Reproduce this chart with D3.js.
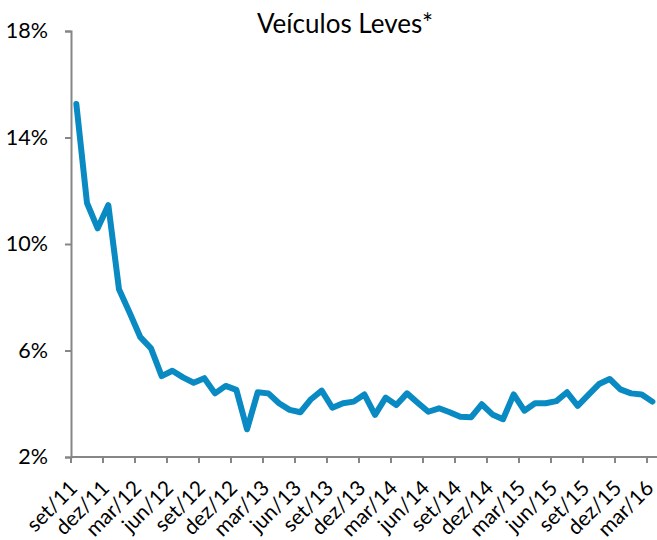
<!DOCTYPE html>
<html>
<head>
<meta charset="utf-8">
<script src="https://cdn.jsdelivr.net/npm/d3@7"></script>
<style>
  html, body { margin: 0; padding: 0; background: #fff; }
  svg { display: block; }
  text { font-family: Lato, "Open Sans", sans-serif; fill: #000; }
</style>
</head>
<body>
<svg id="chart" width="657" height="540"></svg>
<script>
// ---- data ----
const title = "Veículos Leves*";
// categories: set/11 .. mar/16 (55 months)
const categories = [
  "set/11","out/11","nov/11","dez/11",
  "jan/12","fev/12","mar/12","abr/12","mai/12","jun/12","jul/12","ago/12","set/12","out/12","nov/12","dez/12",
  "jan/13","fev/13","mar/13","abr/13","mai/13","jun/13","jul/13","ago/13","set/13","out/13","nov/13","dez/13",
  "jan/14","fev/14","mar/14","abr/14","mai/14","jun/14","jul/14","ago/14","set/14","out/14","nov/14","dez/14",
  "jan/15","fev/15","mar/15","abr/15","mai/15","jun/15","jul/15","ago/15","set/15","out/15","nov/15","dez/15",
  "jan/16","fev/16","mar/16"
];
const values = [
  15.26, 11.54, 10.59, 11.46, 8.30, 7.42, 6.50, 6.08, 5.04, 5.24, 4.99, 4.79, 4.96,
  4.39, 4.67, 4.52, 3.04, 4.43, 4.39, 4.02, 3.77, 3.68, 4.17, 4.49, 3.85, 4.02,
  4.08, 4.35, 3.58, 4.23, 3.95, 4.39, 4.04, 3.70, 3.83, 3.68, 3.51, 3.49, 3.98, 3.60,
  3.42, 4.35, 3.74, 4.02, 4.02, 4.10, 4.43, 3.92, 4.33, 4.74, 4.93, 4.54, 4.39, 4.35, 4.08
];
const yTicks = [2, 6, 10, 14, 18];
const xLabelEvery = 3;

// ---- layout ----
const svg = d3.select("#chart");
const plotLeft = 71, plotRight = 657.7, plotTop = 31, plotBottom = 457;
const axisColor = "#868686";
const lineColor = "#0a8ac3";

const x = d3.scaleBand().domain(categories).range([plotLeft, plotRight]).paddingInner(0).paddingOuter(0);
const y = d3.scaleLinear().domain([2, 18]).range([plotBottom, plotTop]);

// y axis
const yAxis = d3.axisLeft(y).tickValues(yTicks).tickSize(6).tickPadding(17)
  .tickFormat(d => d + "%");
const gy = svg.append("g").attr("transform", `translate(${plotLeft},0)`).call(yAxis);
gy.select(".domain").attr("stroke", axisColor).attr("stroke-width", 2);
gy.selectAll(".tick line").attr("stroke", axisColor).attr("stroke-width", 2);
gy.selectAll(".tick text").attr("font-size", 21.5).attr("font-family", "Lato, sans-serif").attr("fill", "#000");

// x axis: ticks at left edge of every 3rd category
const labeled = categories.filter((c, i) => i % xLabelEvery === 0);
const gx = svg.append("g").attr("class", "xaxis");
gx.append("line")
  .attr("x1", plotLeft).attr("x2", plotRight)
  .attr("y1", plotBottom).attr("y2", plotBottom)
  .attr("stroke", axisColor).attr("stroke-width", 2);
gx.selectAll("line.tick").data(labeled).join("line")
  .attr("class", "tick")
  .attr("x1", d => x(d)).attr("x2", d => x(d))
  .attr("y1", plotBottom).attr("y2", plotBottom + 6)
  .attr("stroke", axisColor).attr("stroke-width", 2);
gx.selectAll("text").data(labeled).join("text")
  .attr("text-anchor", "end")
  .attr("font-size", 21)
  .attr("transform", d => `translate(${x(d) + x.bandwidth() / 2 - 8},${plotBottom + 22}) rotate(-45)`)
  .attr("dy", "0.7em")
  .text(d => d);

// line
const line = d3.line()
  .x((d, i) => x(categories[i]) + x.bandwidth() / 2)
  .y(d => y(d));
svg.append("path")
  .datum(values)
  .attr("fill", "none")
  .attr("stroke", lineColor)
  .attr("stroke-width", 6)
  .attr("stroke-linejoin", "round")
  .attr("stroke-linecap", "round")
  .attr("d", line);

// title
svg.append("text")
  .attr("x", 345).attr("y", 33)
  .attr("text-anchor", "middle")
  .attr("font-size", 26)
  .text(title);
</script>
</body>
</html>
